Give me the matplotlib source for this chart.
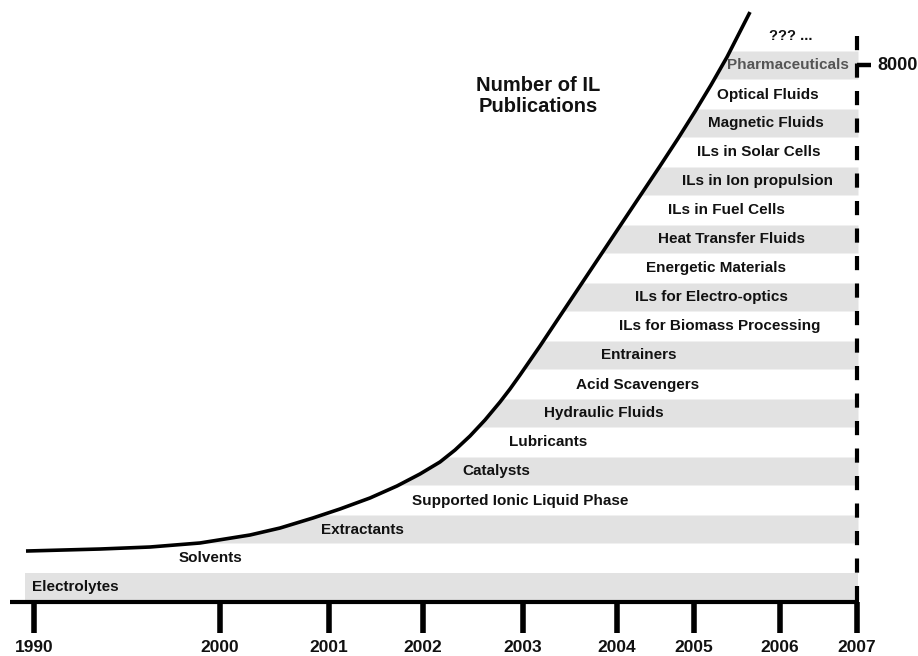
import numpy as np
import matplotlib
matplotlib.use("Agg")
import matplotlib.pyplot as plt

plt.rcParams['font.family'] = ['Liberation Sans', 'DejaVu Sans']

# ---------------- data ----------------
years = ["1990", "2000", "2001", "2002", "2003", "2004", "2005", "2006", "2007"]
tick_pos = [34, 220, 329, 423, 523, 617, 694, 780, 857]   # timeline positions of the year ticks

applications = [
    "Electrolytes", "Solvents", "Extractants", "Supported Ionic Liquid Phase",
    "Catalysts", "Lubricants", "Hydraulic Fluids", "Acid Scavengers", "Entrainers",
    "ILs for Biomass Processing", "ILs for Electro-optics", "Energetic Materials",
    "Heat Transfer Fluids", "ILs in Fuel Cells", "ILs in Ion propulsion",
    "ILs in Solar Cells", "Magnetic Fluids", "Optical Fluids", "Pharmaceuticals",
    "??? ...",
]
label_pos = [75, 210, 362, 520, 496, 548, 604, 638, 639, 720, 711, 716, 731,
             726, 757, 759, 766, 768, 788, 791]

# number of IL publications curve (timeline position, publications)
curve_pos = [26, 100, 150, 200, 250, 280, 313, 340, 370, 397, 420, 440, 455, 470,
             485, 500, 510, 520, 540, 560, 580, 600, 620, 640, 660, 678, 695, 711,
             727, 750]
curve_pubs = [760, 790, 820, 880, 999, 1103, 1253, 1387, 1551, 1730, 1909, 2088,
              2266, 2475, 2714, 2982, 3176, 3385, 3817, 4265, 4712, 5159, 5607,
              6054, 6501, 6911, 7314, 7709, 8126, 8797]

marked_value = 8000

# ---------------- layout ----------------
W, H = 918, 656
ROW = marked_value / 18.5          # publications per application row
PX = ROW / 29.0                    # publications per pixel
def py(p):                          # pixel row -> data y (layout helper)
    return (602 - p) * PX

fig = plt.figure(figsize=(W / 100, H / 100), dpi=100)
ax = fig.add_axes([0, 0, 1, 1])
ax.set_xlim(0, W)
ax.set_ylim(py(H), py(0))
ax.axis('off')

band_color = '#e2e2e2'
x_end = tick_pos[-1]

# grey bands (even rows) bounded on the left by the curve
for i, name in enumerate(applications):
    if i % 2 == 0 and i < 19:
        ys = np.linspace(i * ROW + 1 * PX, (i + 1) * ROW, 80)
        xl = np.interp(ys, curve_pubs, curve_pos, left=curve_pos[0] - 1)
        ax.fill_betweenx(ys, xl, x_end + 1, color=band_color, lw=0, zorder=1)

# labels
for i, name in enumerate(applications):
    color = '#555555' if name == "Pharmaceuticals" else '#111111'
    fs = 10.5 if name.startswith("???") else 11
    ax.text(label_pos[i], (i + 0.5) * ROW, name, ha='center', va='center',
            fontsize=fs, fontweight='bold', color=color, zorder=3)

# curve
ax.plot(curve_pos, curve_pubs, color='black', lw=2.6, solid_joinstyle='round',
        solid_capstyle='butt', zorder=4)

# bottom axis line
ax.plot([10, x_end + 1.5], [py(602), py(602)], color='black', lw=3, zorder=5,
        solid_capstyle='butt')
for tp, yr in zip(tick_pos, years):
    ax.plot([tp, tp], [py(602), py(633)], color='black', lw=4, zorder=5,
            solid_capstyle='butt')
    ax.text(tp, py(648), yr, ha='center', va='center', fontsize=12.5,
            fontweight='bold', color='#111111')

# dashed 2007 line
ax.plot([x_end, x_end], [py(36), py(602)], color='black', lw=3,
        dashes=(3.4, 3.2), zorder=5, solid_capstyle='butt', dash_capstyle='butt')

# 8000 marker
ax.plot([x_end, x_end + 14], [marked_value, marked_value], color='black', lw=3.2,
        zorder=5, solid_capstyle='butt')
ax.text(x_end + 20, marked_value, f"{marked_value}", ha='left', va='center',
        fontsize=13, fontweight='bold', color='#111111')

# title
ax.text(538, py(96), "Number of IL\nPublications", ha='center', va='center',
        fontsize=14.5, fontweight='bold', color='#111111', linespacing=1.15)

fig.savefig("out.png", dpi=100)
